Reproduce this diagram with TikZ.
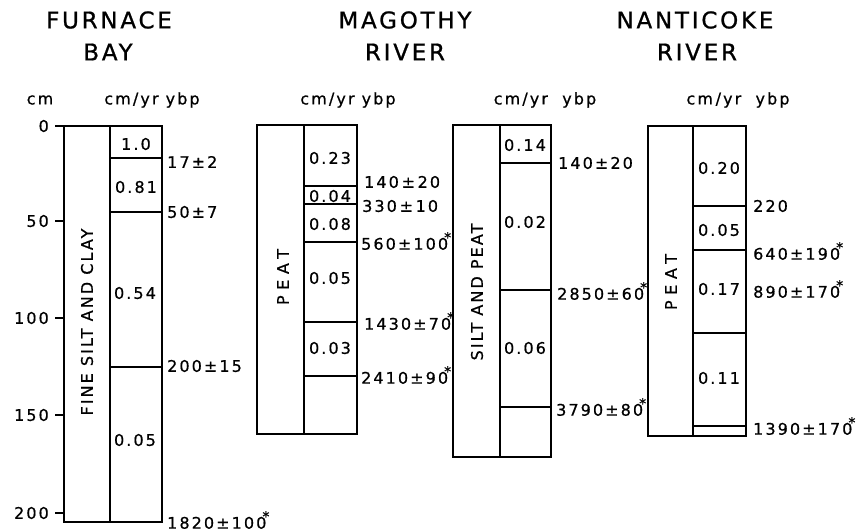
\documentclass[tikz,border=0pt]{standalone}
\usepackage{fontspec}
\setmainfont{DejaVu Sans}
\newfontfamily\lblfont[LetterSpace=13,FakeBold=0.7]{DejaVu Sans}
\newfontfamily\widefont[LetterSpace=35,FakeBold=0.7]{DejaVu Sans}
\newfontfamily\ttlfont[LetterSpace=12,FakeBold=0.9]{DejaVu Sans}
\newcommand\starmark{\kern-0.25em\raisebox{0.45em}{\fontsize{14}{14}\selectfont *}}
\tikzset{
  box/.style={line width=1.5pt},
  seg/.style={line width=1.2pt},
  lbl/.style={font=\lblfont\fontsize{16}{17}\selectfont, inner sep=0pt},
  rate/.style={lbl, anchor=center},
  date/.style={lbl, anchor=west},
  tick/.style={lbl, anchor=east},
  vert/.style={lbl, rotate=90},
  wvert/.style={font=\widefont\fontsize{16}{17}\selectfont, inner sep=0pt, rotate=90},
  ttl/.style={font=\ttlfont\fontsize{23}{24}\selectfont, inner sep=0pt}
}
\begin{document}
\begin{tikzpicture}[x=1pt,y=-1pt]
\useasboundingbox (0,0) rectangle (867,532);

% titles
\node[ttl] (t1a) at (109,20) {FURNACE};
\node[ttl] (t1b) at (108,52) {BAY};
\node[ttl] (t2a) at (405,20) {MAGOTHY};
\node[ttl] (t2b) at (405,52) {RIVER};
\node[ttl] (t3a) at (695,20) {NANTICOKE};
\node[ttl] (t3b) at (697,52) {RIVER};

% headers
\node[lbl] (hcm) at (40,100) {cm};
\node[lbl] (h1) at (152,100) {cm/yr ybp};
\node[lbl] (h2) at (348,100) {cm/yr ybp};
\node[lbl] (h3) at (545,100) {cm/yr\ \ ybp};
\node[lbl] (h4) at (738,100) {cm\,/yr\ \ ybp};

% depth axis
\foreach \v/\y in {0/126,50/221,100/318,150/415,200/513}{
  \draw[box] (55,\y) -- (64,\y);
  \node[tick] (ax\v) at (49,\y) {\v};
}

% ---------- Furnace Bay ----------
\draw[box] (64,126) rectangle (162,522);
\draw[box] (110,126) -- (110,522);
\foreach \y in {158,212,367}{\draw[seg] (110,\y) -- (162,\y);}
\node[vert] (fbL) at (87,322) {FINE SILT AND CLAY};
\node[rate] (fbr1) at (136,144) {1.0};
\node[rate] (fbr2) at (136,187) {0.81};
\node[rate] (fbr3) at (135,293) {0.54};
\node[rate] (fbr4) at (135,440) {0.05};
\node[date] (fbd1) at (167,162) {17±2};
\node[date] (fbd2) at (167,212) {50±7};
\node[date] (fbd3) at (167,366) {200±15};
\node[date] (fbd4) at (167,520) {1820±100\starmark};

% ---------- Magothy River, peat core ----------
\draw[box] (257,125) rectangle (357,434);
\draw[box] (304,125) -- (304,434);
\foreach \y in {186,204,242,322,376}{\draw[seg] (304,\y) -- (357,\y);}
\node[wvert] (mgL) at (283,277) {PEAT};
\node[rate] (mgr1) at (330,158) {0.23};
\node[rate] (mgr2) at (330,196) {0.04};
\node[rate] (mgr3) at (330,224) {0.08};
\node[rate] (mgr4) at (330,278) {0.05};
\node[rate] (mgr5) at (330,348) {0.03};
\node[date] (mgd1) at (364,182) {140\,±\,20};
\node[date] (mgd2) at (362,206) {330\,±\,10};
\node[date] (mgd3) at (361,241) {560±100\starmark};
\node[date] (mgd4) at (364,321) {1430±70\starmark};
\node[date] (mgd5) at (361,375) {2410±90\starmark};

% ---------- Magothy River, silt and peat core ----------
\draw[box] (453,125) rectangle (551,457);
\draw[box] (500,125) -- (500,457);
\foreach \y in {163,290,407}{\draw[seg] (500,\y) -- (551,\y);}
\node[vert] (spL) at (477,292) {SILT AND PEAT};
\node[rate] (spr1) at (525,145) {0.14};
\node[rate] (spr2) at (525,222) {0.02};
\node[rate] (spr3) at (525,348) {0.06};
\node[date] (spd1) at (558,163) {140±20};
\node[date] (spd2) at (557,291) {2850±60\starmark};
\node[date] (spd3) at (556,407) {3790±80\starmark};

% ---------- Nanticoke River ----------
\draw[box] (648,126) rectangle (746,436);
\draw[box] (693,126) -- (693,436);
\foreach \y in {206,250,333,426}{\draw[seg] (693,\y) -- (746,\y);}
\node[wvert] (ntL) at (671,282) {PEAT};
\node[rate] (ntr1) at (719,168) {0.20};
\node[rate] (ntr2) at (719,230) {0.05};
\node[rate] (ntr3) at (719,289) {0.17};
\node[rate] (ntr4) at (719,378) {0.11};
\node[date] (ntd1) at (753,206) {220};
\node[date] (ntd2) at (753,251) {640±190\starmark};
\node[date] (ntd3) at (753,289) {890±170\starmark};
\node[date] (ntd4) at (753,426) {1390±170\starmark};
\end{tikzpicture}
\end{document}
